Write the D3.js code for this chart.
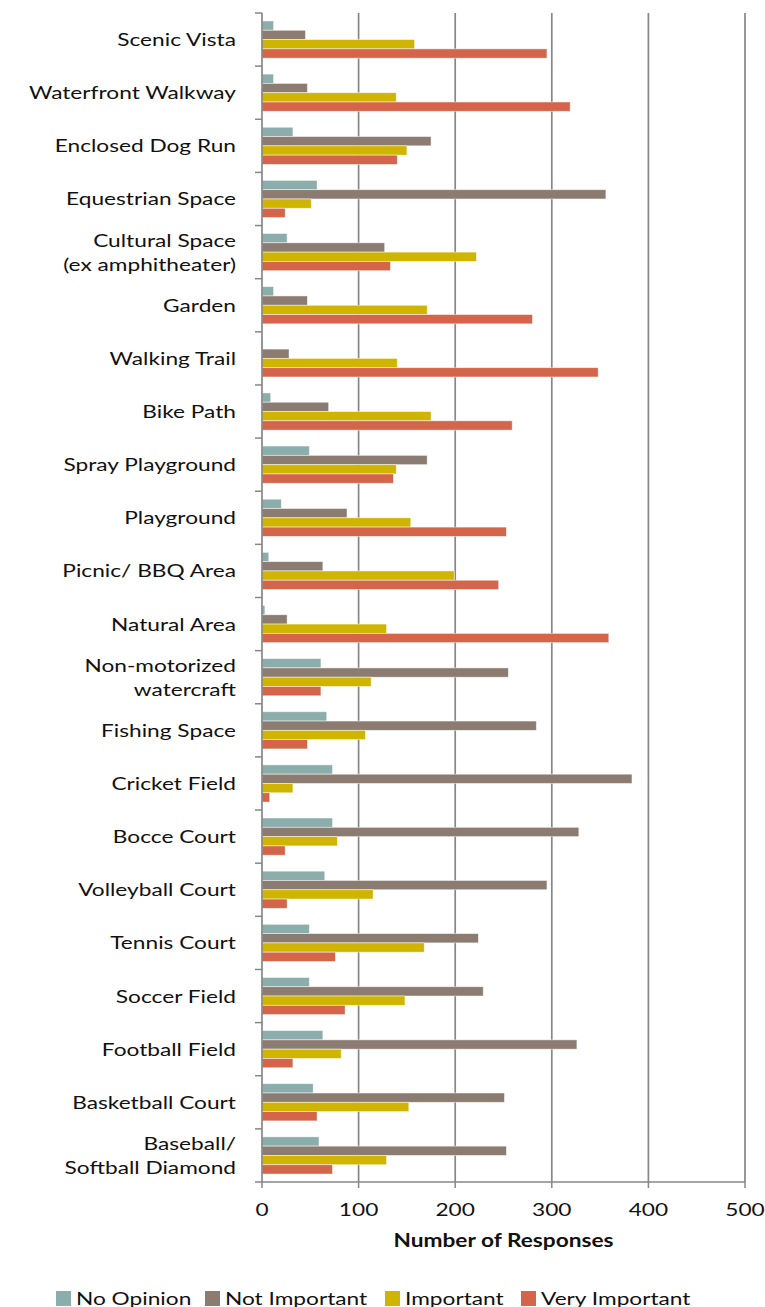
<!DOCTYPE html>
<html>
<head>
<meta charset="utf-8">
<script src="https://cdnjs.cloudflare.com/ajax/libs/d3/7.8.5/d3.min.js"></script>
<style>
  body { margin: 0; background: #fff; }
  text { font-family: Lato, "Open Sans", sans-serif; fill: #111; }
</style>
</head>
<body>
<div id="chart"></div>
<script>
// Chart data
const categories = [
  ["Scenic Vista"],
  ["Waterfront Walkway"],
  ["Enclosed Dog Run"],
  ["Equestrian Space"],
  ["Cultural Space", "(ex amphitheater)"],
  ["Garden"],
  ["Walking Trail"],
  ["Bike Path"],
  ["Spray Playground"],
  ["Playground"],
  ["Picnic/ BBQ Area"],
  ["Natural Area"],
  ["Non-motorized", "watercraft"],
  ["Fishing Space"],
  ["Cricket Field"],
  ["Bocce Court"],
  ["Volleyball Court"],
  ["Tennis Court"],
  ["Soccer Field"],
  ["Football Field"],
  ["Basketball Court"],
  ["Baseball/", "Softball Diamond"]
];
const seriesNames = ["No Opinion", "Not Important", "Important", "Very Important"];
const noOpinion     = [12, 12, 32, 57, 26, 12, 1, 9, 49, 20, 7, 3, 61, 67, 73, 73, 65, 49, 49, 63, 53, 59];
const notImportant  = [45, 47, 175, 356, 127, 47, 28, 69, 171, 88, 63, 26, 255, 284, 383, 328, 295, 224, 229, 326, 251, 253];
const important     = [158, 139, 150, 51, 222, 171, 140, 175, 139, 154, 199, 129, 113, 107, 32, 78, 115, 168, 148, 82, 152, 129];
const veryImportant = [295, 319, 140, 24, 133, 280, 348, 259, 136, 253, 245, 359, 61, 47, 8, 24, 26, 76, 86, 32, 57, 73];
const xTicks = [0, 100, 200, 300, 400, 500];
const colors = ["#8badac", "#8c7b70", "#cfb500", "#d4644a"];

const seriesValues = [noOpinion, notImportant, important, veryImportant];

// Layout
const W = 765, H = 1307;
const plot = { left: 262, right: 745, top: 13, bottom: 1182 };
const stretch = 1.26;   // the reference text is horizontally stretched
const legendX = [56, 205, 385, 521];

const svg = d3.select("#chart")
  .append("svg")
  .attr("width", W)
  .attr("height", H);

const x = d3.scaleLinear().domain([0, 500]).range([plot.left, plot.right]);

const y = d3.scaleBand()
  .domain(d3.range(categories.length))
  .range([plot.top, plot.bottom])
  .paddingInner(0.3)
  .paddingOuter(0.15);

const ySub = d3.scaleBand()
  .domain(d3.range(seriesNames.length))
  .range([0, y.bandwidth()]);

// helper for stretched text
function stext(g, tx, ty, str) {
  return g.append("text")
    .attr("transform", `translate(${tx},${ty}) scale(${stretch},1)`)
    .text(str);
}

// Vertical gridlines
svg.append("g")
  .selectAll("line")
  .data(xTicks.filter(d => d > 0))
  .enter()
  .append("line")
  .attr("x1", d => x(d))
  .attr("x2", d => x(d))
  .attr("y1", plot.top)
  .attr("y2", plot.bottom)
  .attr("stroke", "#878787")
  .attr("stroke-width", 1.7);

// Bars
const rows = svg.append("g")
  .selectAll("g")
  .data(categories.map((c, i) => i))
  .enter()
  .append("g")
  .attr("transform", i => `translate(0,${y(i)})`);

rows.selectAll("rect")
  .data(i => seriesValues.map((vals, s) => ({ s, v: vals[i] })))
  .enter()
  .append("rect")
  .attr("x", x(0))
  .attr("y", d => ySub(d.s))
  .attr("width", d => x(d.v) - x(0))
  .attr("height", ySub.bandwidth())
  .attr("fill", d => colors[d.s])
  .attr("stroke", "#ffffff")
  .attr("stroke-opacity", 0.6)
  .attr("stroke-width", 0.8);

// Left axis: line and category-boundary ticks
const axisCol = "#878787";
svg.append("line")
  .attr("x1", plot.left).attr("x2", plot.left)
  .attr("y1", plot.top).attr("y2", plot.bottom)
  .attr("stroke", axisCol).attr("stroke-width", 1.7);

svg.append("g")
  .selectAll("line")
  .data(d3.range(categories.length + 1))
  .enter()
  .append("line")
  .attr("x1", plot.left - 7)
  .attr("x2", plot.left)
  .attr("y1", i => plot.top + i * (plot.bottom - plot.top) / categories.length)
  .attr("y2", i => plot.top + i * (plot.bottom - plot.top) / categories.length)
  .attr("stroke", axisCol)
  .attr("stroke-width", 1.5);

// Category labels
const labels = svg.append("g")
  .attr("font-size", 18)
  .attr("text-anchor", "end");
categories.forEach((lines, i) => {
  const cy = y(i) + y.bandwidth() / 2;
  const lh = 24;
  lines.forEach((ln, k) => {
    const by = cy + 6.5 + (k - (lines.length - 1) / 2) * lh;
    stext(labels, 236, by, ln);
  });
});

// Bottom axis
svg.append("line")
  .attr("x1", plot.left).attr("x2", plot.right)
  .attr("y1", plot.bottom).attr("y2", plot.bottom)
  .attr("stroke", axisCol).attr("stroke-width", 1.7);

svg.append("g")
  .selectAll("line")
  .data(xTicks)
  .enter()
  .append("line")
  .attr("x1", d => x(d)).attr("x2", d => x(d))
  .attr("y1", plot.bottom).attr("y2", plot.bottom + 6)
  .attr("stroke", axisCol).attr("stroke-width", 1.5);

const tickLabels = svg.append("g")
  .attr("font-size", 18)
  .attr("text-anchor", "middle");
xTicks.forEach(t => stext(tickLabels, x(t), 1216, String(t)));

// Axis title
stext(svg, (plot.left + plot.right) / 2, 1247, "Number of Responses")
  .attr("font-size", 18)
  .attr("font-weight", "bold")
  .attr("text-anchor", "middle");

// Legend
const legend = svg.append("g").attr("font-size", 18);
seriesNames.forEach((name, s) => {
  legend.append("rect")
    .attr("x", legendX[s])
    .attr("y", 1291)
    .attr("width", 15)
    .attr("height", 15)
    .attr("fill", colors[s]);
  stext(legend, legendX[s] + 20, 1304.5, name);
});
</script>
</body>
</html>
